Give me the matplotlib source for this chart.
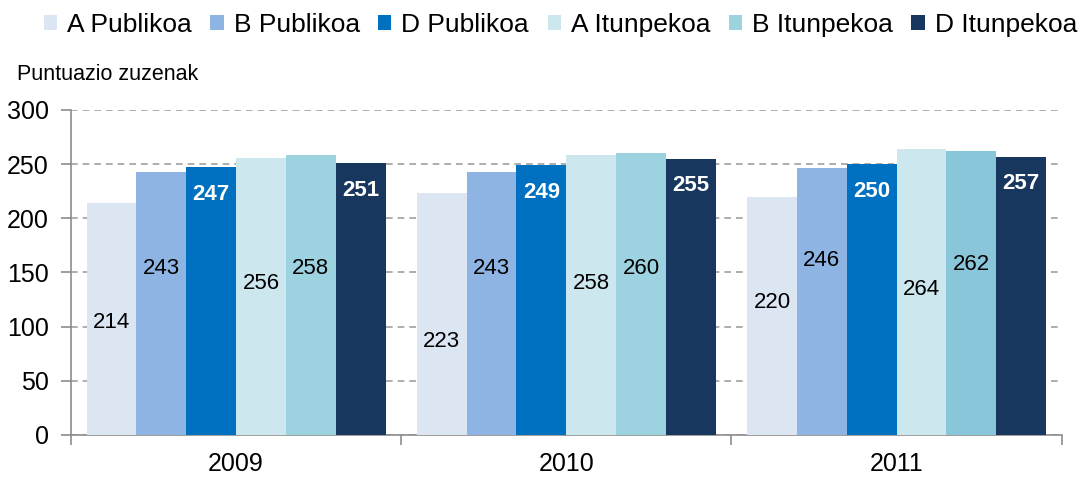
import numpy as np
import matplotlib
matplotlib.use('Agg')
from matplotlib import pyplot as plt

plt.rcParams['font.family'] = ['Liberation Sans', 'DejaVu Sans']

# Data
years = ['2009', '2010', '2011']
series = ['A Publikoa', 'B Publikoa', 'D Publikoa', 'A Itunpekoa', 'B Itunpekoa', 'D Itunpekoa']
values = {
    'A Publikoa': [214, 223, 220],
    'B Publikoa': [243, 243, 246],
    'D Publikoa': [247, 249, 250],
    'A Itunpekoa': [256, 258, 264],
    'B Itunpekoa': [258, 260, 262],
    'D Itunpekoa': [251, 255, 257],
}
colors = ['#DCE6F2', '#8EB4E3', '#0070C0', '#CDE7EF', '#9DD2E0', '#17375E']
# label heights as placed in the original chart (data units)
label_y = {
    'A Publikoa': [104, 86, 122],
    'B Publikoa': [154, 154, 161],
    'A Itunpekoa': [140, 140, 134],
    'B Itunpekoa': [154, 154, 157],
}

fig = plt.figure(figsize=(10.79, 4.79), dpi=100)
ax = fig.add_axes([0.0658, 0.0919, 0.9182, 0.6785])

x = np.arange(len(years))
w = 0.151
for i, name in enumerate(series):
    pos = x + (i - 2.5) * w
    bars = ax.bar(pos, values[name], width=w, color=colors[i], zorder=3, label=name)
    if name == 'B Itunpekoa':
        # the 2011 bar is a slightly darker shade in the original
        bars[2].set_facecolor('#8AC6D9')
    for j, v in enumerate(values[name]):
        if name.startswith('D'):
            ax.text(pos[j], v - 25, str(v), ha='center', va='center',
                    color='white', fontweight='bold', fontsize=16, zorder=4)
        else:
            ax.text(pos[j], label_y[name][j], str(v), ha='center', va='center',
                    color='black', fontsize=16, zorder=4)

ax.set_xlim(-0.5, 2.5)
ax.set_ylim(0, 300)
ax.set_yticks(range(0, 301, 50))
ax.yaxis.grid(True, linestyle=(0, (4, 3)), color='#A0A0A0', linewidth=1.2, zorder=0)
ax.set_xticks(x)
ax.set_xticklabels(years)
ax.set_xticks([-0.5, 0.5, 1.5, 2.5], minor=True)
ax.tick_params(axis='x', which='major', length=0, labelsize=18, pad=12)
ax.tick_params(axis='x', which='minor', length=7, width=1.2, color='#8C8C8C', direction='out')
ax.tick_params(axis='y', length=7, width=1.2, color='#8C8C8C', labelsize=18, pad=9)

for s in ['top', 'right']:
    ax.spines[s].set_visible(False)
for s in ['left', 'bottom']:
    ax.spines[s].set_color('#8C8C8C')
    ax.spines[s].set_linewidth(1.2)

fig.text(0.016, 0.822, 'Puntuazio zuzenak', fontsize=15.5, ha='left', va='bottom')

leg = fig.legend(loc='upper left', bbox_to_anchor=(0.031, 0.995), ncol=6, frameon=False,
                 fontsize=19, handlelength=0.5, handleheight=0.5, handletextpad=0.38,
                 columnspacing=0.7, borderaxespad=0)

fig.savefig('out.png', dpi=100)
